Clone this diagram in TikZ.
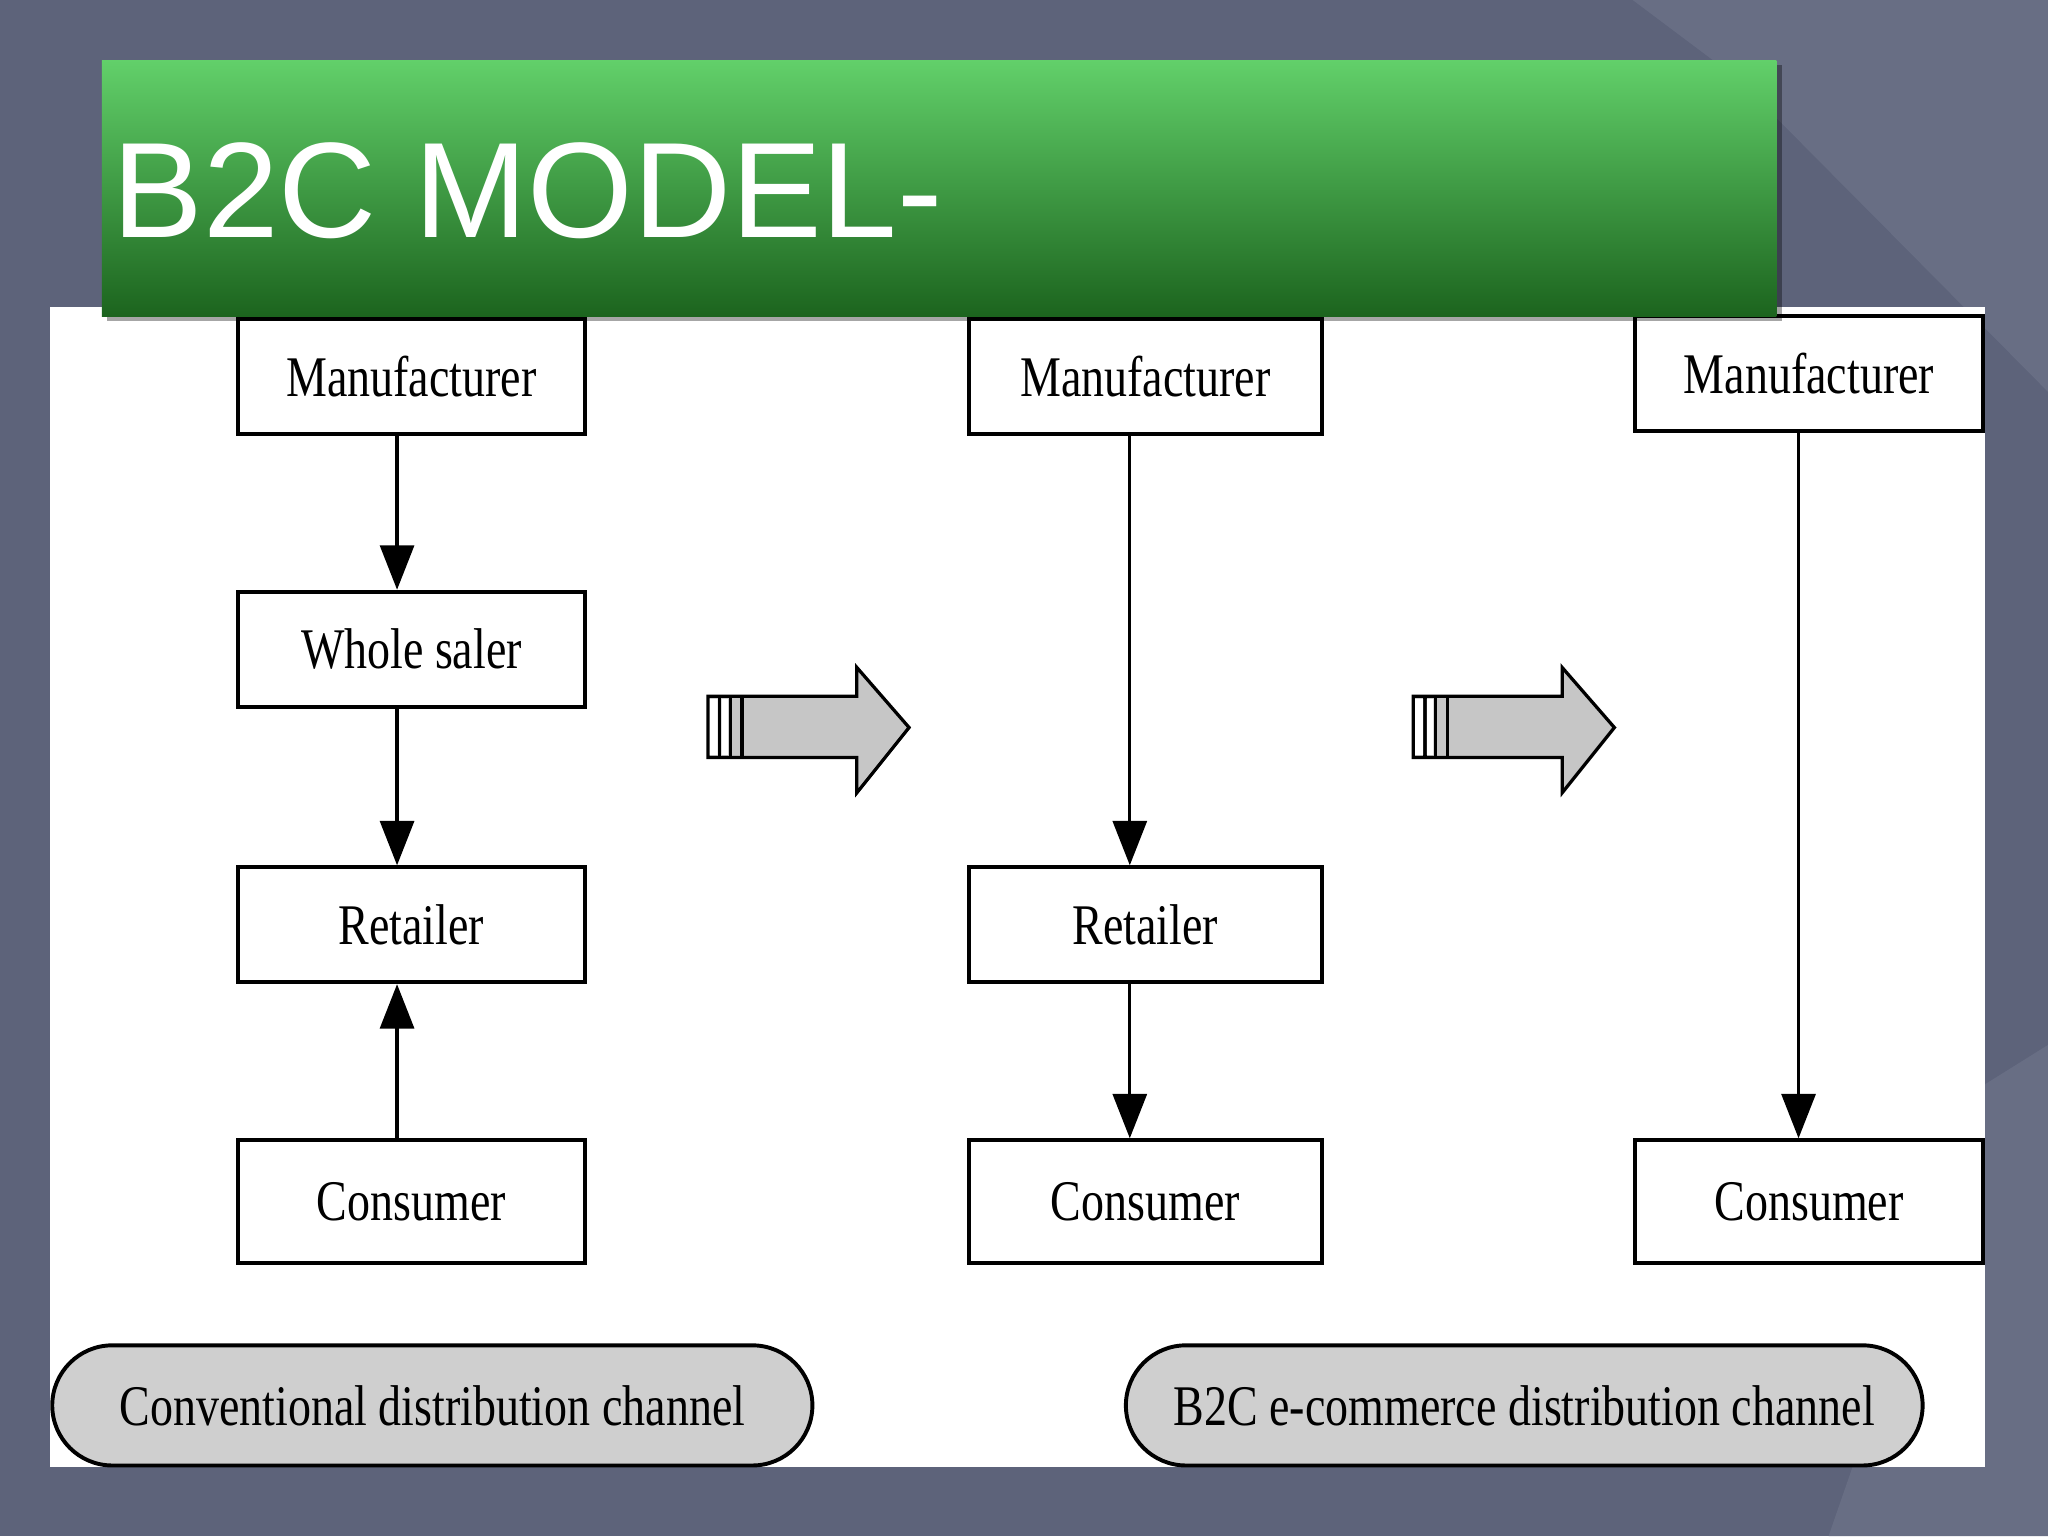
\documentclass[tikz,border=0pt]{standalone}
\usepackage{fontspec}
\setmainfont{Liberation Serif}
\newfontfamily\cond{Liberation Serif}[FakeStretch=0.8]
\newfontfamily\hsans{Liberation Sans}
\usetikzlibrary{arrows.meta}
\begin{document}
\begin{tikzpicture}[x=1pt,y=-1pt,
  box/.style={draw,line width=3pt,fill=white,minimum height=88pt,inner sep=0pt,font=\cond\fontsize{44}{44}\selectfont},
  arr/.style={line width=2.5pt,-{Triangle[length=34pt,width=26pt]}},
  oval/.style={draw,line width=3pt,fill=gray!38,rounded corners=46pt,minimum height=92pt,font=\cond\fontsize{44}{44}\selectfont},
  blk/.style={draw,line width=2.5pt,fill=gray!45}]
\useasboundingbox (0,0) rectangle (1568,1176);
\fill[fill={rgb,255:red,93;green,99;blue,122}] (0,0) rectangle (1568,1176);
\fill[fill={rgb,255:red,104;green,110;blue,132}] (1250,0) -- (1568,0) -- (1568,300) -- (1330,60) -- cycle;
\fill[fill={rgb,255:red,104;green,110;blue,132}] (1520,830) -- (1568,800) -- (1568,1176) -- (1400,1176) -- cycle;
\fill[white] (38,235) rectangle (1520,1123);
% boxes
\node[box,minimum width=266pt] (m1) at (315,288) {Manufacturer};
\node[box,minimum width=266pt] (w1) at (315,497) {Whole saler};
\node[box,minimum width=266pt] (r1) at (315,708) {Retailer};
\node[box,minimum width=266pt,minimum height=94pt] (c1) at (315,920) {Consumer};
\node[box,minimum width=270pt] (m2) at (877,288) {Manufacturer};
\node[box,minimum width=270pt] (r2) at (877,708) {Retailer};
\node[box,minimum width=270pt,minimum height=94pt] (c2) at (877,920) {Consumer};
\node[box,minimum width=266pt] (m3) at (1385,286) {Manufacturer};
\node[box,minimum width=266pt,minimum height=94pt] (c3) at (1385,920) {Consumer};
\draw[arr] (m1.south-|304,0) -- (w1.north-|304,0);
\draw[arr] (w1.south-|304,0) -- (r1.north-|304,0);
\draw[arr] (c1.north-|304,0) -- (r1.south-|304,0);
\draw[arr] (m2.south-|865,0) -- (r2.north-|865,0);
\draw[arr] (r2.south-|865,0) -- (c2.north-|865,0);
\draw[arr] (m3.south-|1377,0) -- (c3.north-|1377,0);
% block arrows
\foreach \x/\n in {542/ba1,1082/ba2}{
  \draw[blk] (\x,533) -- (\x+114,533) -- (\x+114,511) -- (\x+154,557) -- (\x+114,607) -- (\x+114,580) -- (\x,580) -- cycle;
  \draw[line width=2.5pt] (\x+9,533) -- (\x+9,580) (\x+17,533) -- (\x+17,580) (\x+26,533) -- (\x+26,580);
  \fill[white] (\x+1.5,535) rectangle (\x+7.5,578) (\x+10.5,535) rectangle (\x+15.5,578);
}
\node[oval,minimum width=582pt] (o1) at (331,1076) {Conventional distribution channel};
\node[oval,minimum width=610pt] (o2) at (1167,1076) {B2C e-commerce distribution channel};
% title
\fill[black,opacity=0.35] (82,50) rectangle (1364,246);
\shade[top color={rgb,255:red,98;green,208;blue,106},bottom color={rgb,255:red,28;green,100;blue,30}] (78,46) rectangle (1360,242);
\node[anchor=base west,text=white,font=\hsans\fontsize{104}{104}\selectfont,inner sep=0pt] (t) at (86,182) {B2C MODEL-};
\end{tikzpicture}
\end{document}
